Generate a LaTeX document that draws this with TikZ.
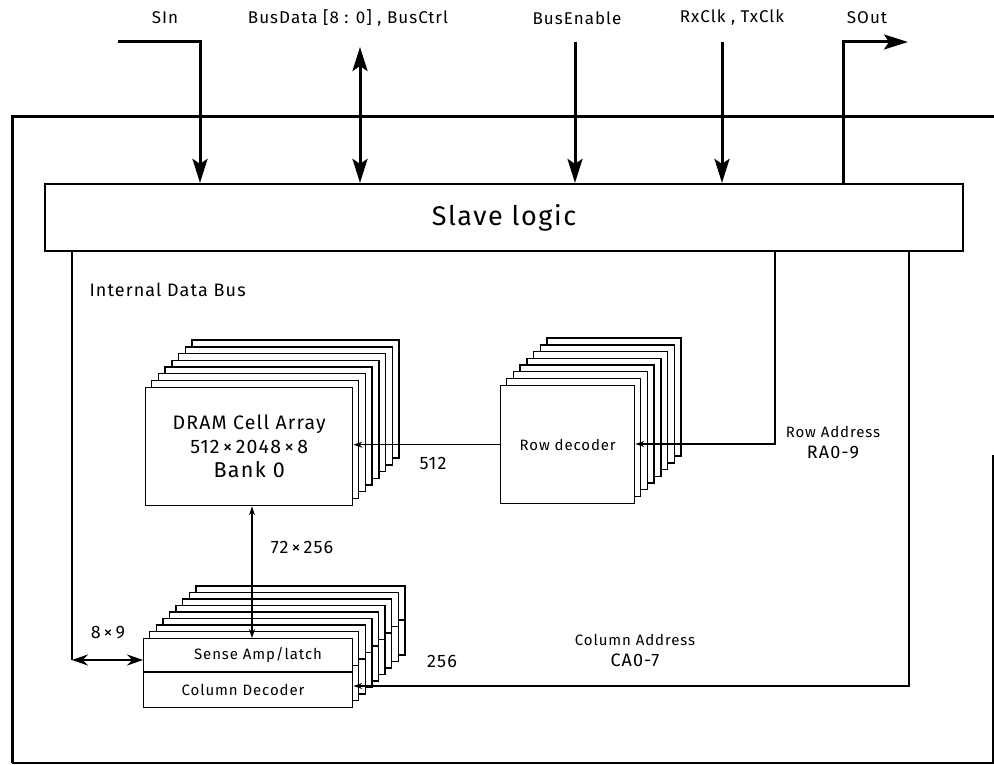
\documentclass[tikz,border=0pt]{standalone}
\usepackage{fontspec}
\setmainfont{Fira Sans}[LetterSpace=6]
\usetikzlibrary{arrows.meta,positioning,calc}
\tikzset{
  frame/.style={line width=3pt},
  thinframe/.style={line width=1.4pt},
  slavebox/.style={draw,line width=2.2pt,minimum width=918pt,minimum height=67pt,
    inner sep=0pt,font=\fontsize{27}{32}\selectfont},
  layer/.style={draw,fill=white,line width=1.4pt},
  cellbox/.style={draw,fill=white,line width=1.4pt,inner sep=0pt,align=center},
  sig/.style={line width=3pt},
  sigarrow/.style={sig,-{Stealth[length=24pt,width=15pt,inset=5pt]}},
  sigboth/.style={sig,{Stealth[length=24pt,width=15pt,inset=5pt]}-{Stealth[length=24pt,width=15pt,inset=5pt]}},
  busarrow/.style={line width=2.2pt,{Stealth[length=16pt,width=11pt]}-{Stealth[length=16pt,width=11pt]}},
  wire/.style={line width=1.2pt},
  wirearrow/.style={wire,-{Stealth[length=9pt,width=6pt]}},
  wireboth/.style={wire,{Stealth[length=9pt,width=6pt]}-{Stealth[length=9pt,width=6pt]}},
  pinlbl/.style={font=\fontsize{17}{20}\selectfont,inner sep=0pt},
  numlbl/.style={font=\fontsize{18}{21}\selectfont,inner sep=0pt},
  addrlbl/.style={align=center,inner sep=0pt,font=\fontsize{15}{21}\selectfont}
}

\begin{document}
\begin{tikzpicture}[x=1pt,y=-1pt]
  \useasboundingbox (0,0) rectangle (994,765);
  % chip outline
  \draw[frame] (994,117) -- (12,117) -- (12,763);
  \draw[thinframe] (12,763) -- (993,763) -- (993,455);

  \node[slavebox] (slave) at (504,217.5) {Slave logic};

  % external pins
  \node[pinlbl] (lsin) at (165,18) {SIn};
  \node[pinlbl] (lbd) at (348,18) {BusData [8 : 0] , BusCtrl};
  \node[pinlbl] (lbe) at (577,18) {BusEnable};
  \node[pinlbl] (lclk) at (732,18) {RxClk , TxClk};
  \node[pinlbl] (lso) at (867,18) {SOut};
  \coordinate (sin0) at (118,42);
  \coordinate (sin1) at (200,42);
  \coordinate (bd) at (360,47);
  \coordinate (be) at (575,42);
  \coordinate (clk) at (722,42);
  \coordinate (so0) at (843,42);
  \coordinate (so1) at (908,42);
  \draw[sigarrow] (sin0) -- (sin1) -- (sin1 |- slave.north);
  \draw[sigboth] (bd) -- (bd |- slave.north);
  \draw[sigarrow] (be) -- (be |- slave.north);
  \draw[sigarrow] (clk) -- (clk |- slave.north);
  \draw[sigarrow] (so0 |- slave.north) -- (so0) -- (so1);

  % DRAM cell array
  \foreach \k in {7,6,...,1}
    \draw[layer] ({145+6.7*\k},{387-6.7*\k}) rectangle ++(207,118);
  \node[cellbox,minimum width=207pt,minimum height=118pt,anchor=north west,
    font=\fontsize{19.5}{24}\selectfont] (dram) at (145,387)
    {DRAM Cell Array\\512\,×\,2048\,×\,8\\{\fontsize{21.5}{24}\selectfont Bank 0}};

  % row decoder
  \foreach \k in {7,6,...,1}
    \draw[layer] ({500+6.7*\k},{385-6.7*\k}) rectangle ++(134,118);
  \node[cellbox,minimum width=134pt,minimum height=118pt,anchor=north west,
    font=\fontsize{15}{18}\selectfont] (rowdec) at (500,385) {Row decoder};

  % sense amp / column decoder
  \foreach \k in {8,7,...,1}{
    \draw[layer] ({143+6.6*\k},{638-6.5*\k}) rectangle ++(209,69);
    \draw[layer] ({143+6.6*\k},{672-6.5*\k}) -- ++(209,0);
  }
  \node[cellbox,minimum width=209pt,minimum height=69pt,anchor=north west] (samp) at (143,638) {};
  \draw[layer] (samp.west |- 0,672) -- (samp.east |- 0,672);
  \node[font=\fontsize{15}{18}\selectfont] (sense) at (258,655) {Sense Amp/latch};
  \node[font=\fontsize{15}{18}\selectfont] (coldec) at (243,689.5) {Column Decoder};

  % internal wiring
  \coordinate (ib) at (72,660);
  \coordinate (ra) at (775,444);
  \coordinate (ca) at (909,686);
  \coordinate (dq) at (252,570);
  \draw[wire] (ib |- slave.south) -- (ib);
  \draw[busarrow] (ib) -- (ib -| samp.west);
  \draw[wirearrow] (ra |- slave.south) -- (ra) -- (ra -| rowdec.east);
  \draw[wirearrow] (ca |- slave.south) -- (ca) -- (ca -| samp.east);
  \draw[wirearrow] (rowdec.west) -- (rowdec.west -| dram.east);
  \draw[wireboth] (dq |- samp.north) -- (dq |- dram.south);

  % labels
  \node[anchor=west,font=\fontsize{18}{21}\selectfont] (lbus) at (86,290) {Internal Data Bus};
  \node[numlbl] (l512) at (433,463) {512};
  \node[numlbl] (l72) at (302,547) {72\,×\,256};
  \node[numlbl] (l89) at (108,633) {8\,×\,9};
  \node[numlbl] (l256) at (442,661) {256};
  \node[addrlbl] (lra) at (833,443) {Row Address\\{\fontsize{18}{21}\selectfont RA0-9}};
  \node[addrlbl] (lca) at (635,650) {Column Address\\{\fontsize{18}{21}\selectfont CA0-7}};
\end{tikzpicture}
\end{document}
